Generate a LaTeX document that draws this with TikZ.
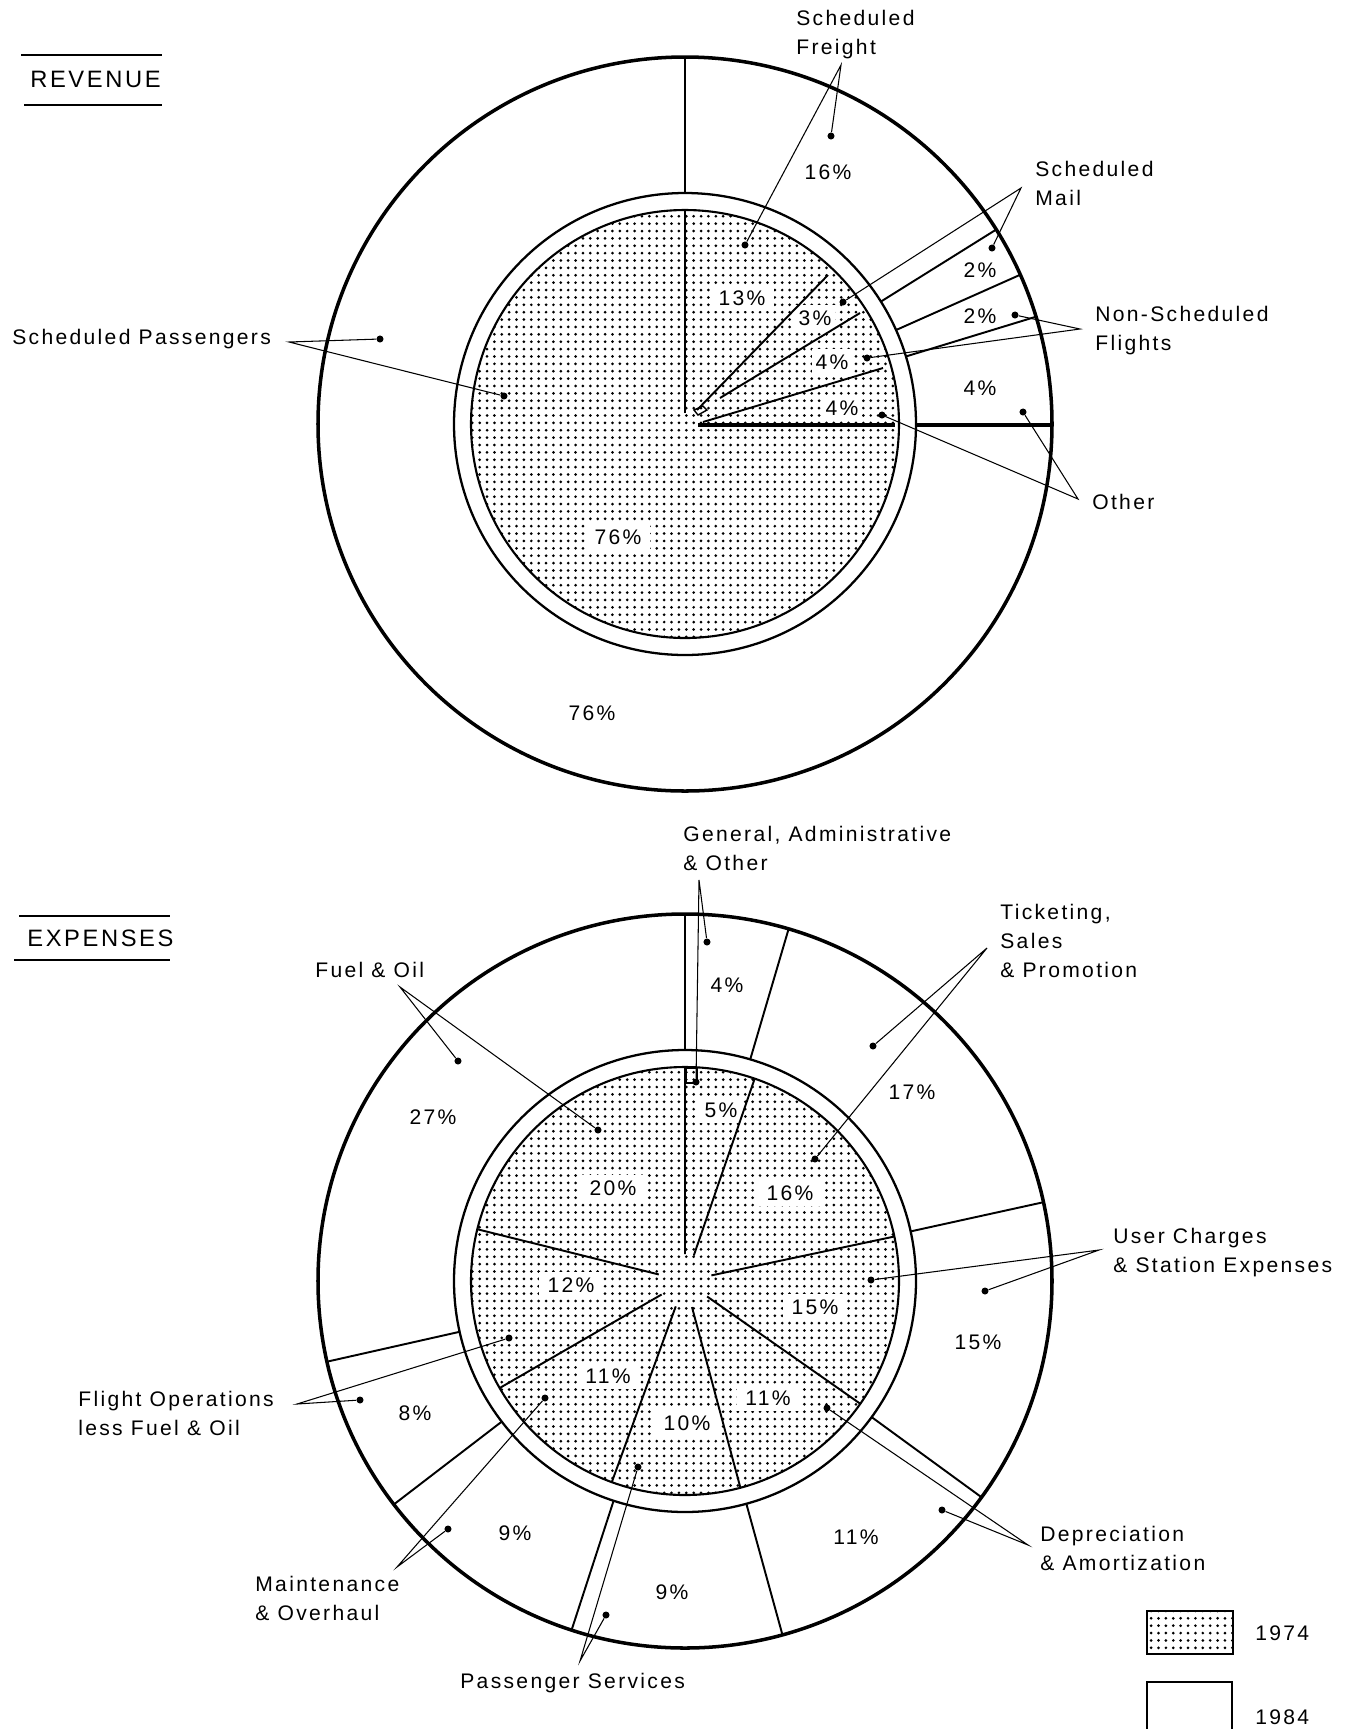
\documentclass[tikz,border=0pt]{standalone}
\usepackage{fontspec}
\setmainfont{Liberation Sans}[LetterSpace=11]
\usetikzlibrary{patterns}
\pgfdeclarepatternformonly{piedots}{\pgfqpoint{-1pt}{-1pt}}{\pgfqpoint{1pt}{1pt}}{\pgfqpoint{4.2pt}{4.2pt}}{\pgfpathcircle{\pgfqpoint{0pt}{0pt}}{0.85pt}\pgfusepath{fill}}

\begin{document}
\begin{tikzpicture}[x=0.02cm, y=-0.02cm,
  lbl/.style={font=\fontsize{12}{16.5}\selectfont, align=left, anchor=north west, inner sep=0pt},
  ttl/.style={font=\fontsize{13.5}{16}\selectfont, anchor=north west, inner sep=0pt},
  pct/.style={font=\fontsize{12}{14}\selectfont, inner sep=1pt},
  ipct/.style={pct, fill=white, inner xsep=5pt, inner ysep=3pt},
  pin/.style={circle, fill=black, inner sep=0pt, minimum size=4pt},
  lead/.style={line width=0.6pt},
  dotfill/.style={pattern=piedots}]
\path[use as bounding box, clip] (0,0) rectangle (1355,1729);

\node[ttl] (revttl) at (30,71) {REVENUE};
\draw[line width=1pt] (21,55) -- (162,55) (24,105) -- (162,105);

\begin{scope}[shift={(685,424)}]
\draw[dotfill, line width=1.2pt] (0,0) circle (214);
\draw[line width=1.3pt] (0,0) circle (231);
\draw[line width=2pt] (0,0) circle (367);
\end{scope}
\node[ipct] (r13) at (742,298) {13\%};
\node[ipct, inner xsep=2pt] (r3) at (815,318) {3\%};
\node[ipct, inner xsep=2pt] (r4a) at (832,362) {4\%};
\node[ipct, inner xsep=2pt] (r4b) at (842,408) {4\%};
\node[ipct] (r76) at (618,537) {76\%};
\begin{scope}[shift={(685,424)}]
\draw[line width=1pt] (-90:11) -- (-90:214) (-90:231) -- (-90:367);
\draw[line width=1.1pt] (12,-14) -- (143,-149) (35,-26) -- (175,-111) (18,-2) -- (198,-56);
\draw[line width=0.8pt] (9,-14) -- (13,-9) -- (22,-14) -- (18,-18) -- cycle;
\draw[line width=1.8pt] (13,1) -- (210,1) (231,1) -- (367,1);
\draw[line width=1.1pt] (-32:231) -- (-32:367) (-24:231) -- (-24:367) (-17:231) -- (-17:367);
\end{scope}
\node[pct] (o16) at (828,172) {16\%};
\node[pct] (o2a) at (980,270) {2\%};
\node[pct] (o2b) at (980,316) {2\%};
\node[pct] (o4) at (980,388) {4\%};
\node[pct] (o76) at (592,713) {76\%};

\node[lbl] (frlbl) at (796,10) {Scheduled\\Freight};
\coordinate (frtip) at (841,65);
\node[pin] (frout) at (831,136) {};
\node[pin] (frin) at (745,245) {};
\draw[lead] (frout) -- (frtip) -- (frin);

\node[lbl] (mllbl) at (1035,161) {Scheduled\\Mail};
\coordinate (mltip) at (1021,188);
\node[pin] (mlout) at (992,248) {};
\node[pin] (mlin) at (843,302) {};
\draw[lead] (mlout) -- (mltip) -- (mlin);

\node[lbl] (nslbl) at (1095,306) {Non-Scheduled\\Flights};
\coordinate (nstip) at (1080,329);
\node[pin] (nsout) at (1015,315) {};
\node[pin] (nsin) at (867,358) {};
\draw[lead] (nsout) -- (nstip) -- (nsin);

\node[lbl] (otlbl) at (1092,494) {Other};
\coordinate (ottip) at (1078,499);
\node[pin] (otout) at (1023,412) {};
\node[pin] (otin) at (882,415) {};
\draw[lead] (otout) -- (ottip) -- (otin);

\node[lbl] (splbl) at (12,329) {Scheduled Passengers};
\coordinate (sptip) at (289,342);
\node[pin] (spout) at (380,339) {};
\node[pin] (spin) at (504,396) {};
\draw[lead] (spout) -- (sptip) -- (spin);

\node[ttl] (expttl) at (27,930) {EXPENSES};
\draw[line width=1pt] (19,916) -- (170,916) (14,960) -- (170,960);

\begin{scope}[shift={(685,1281)}]
\draw[dotfill, line width=1.2pt] (0,0) circle (214);
\draw[line width=1.3pt] (0,0) circle (231);
\draw[line width=2pt] (0,0) circle (367);
\end{scope}
\node[ipct, inner xsep=3pt] (e5) at (721,1110) {5\%};
\node[ipct] (e16) at (790,1193) {16\%};
\node[ipct] (e20) at (613,1188) {20\%};
\node[ipct] (e12) at (571,1285) {12\%};
\node[ipct] (e15) at (815,1307) {15\%};
\node[ipct] (e11a) at (608,1376) {11\%};
\node[ipct] (e10) at (687,1423) {10\%};
\node[ipct] (e11b) at (768,1398) {11\%};
\begin{scope}[shift={(685,1281)}]
\draw[line width=1.1pt] (-90:27) -- (-90:214) (-71:27) -- (-71:214) (-12:27) -- (-12:214) (35:27) -- (35:214) (75:27) -- (75:214) (110:27) -- (110:214) (150:27) -- (150:214) (-166:27) -- (-166:214);
\draw[line width=1.1pt] (-90:231) -- (-90:367) (-73.6:231) -- (-73.6:367) (-12.4:231) -- (-12.4:367) (36.1:231) -- (36.1:367) (74.6:231) -- (74.6:367) (108:231) -- (108:367) (142.5:231) -- (142.5:367) (167.3:231) -- (167.3:367);
\draw[line width=0.8pt] (1,-213) rectangle (12,-198);
\end{scope}
\node[pct] (f4) at (727,985) {4\%};
\node[pct] (f17) at (912,1092) {17\%};
\node[pct] (f15) at (978,1342) {15\%};
\node[pct] (f11) at (856,1537) {11\%};
\node[pct] (f9a) at (672,1592) {9\%};
\node[pct] (f9b) at (515,1533) {9\%};
\node[pct] (f8) at (415,1413) {8\%};
\node[pct] (f27) at (433,1117) {27\%};

\node[lbl] (galbl) at (683,826) {General, Administrative\\\& Other};
\coordinate (gatip) at (699,880);
\node[pin] (gaout) at (707,942) {};
\node[pin] (gain) at (696,1082) {};
\draw[lead] (gaout) -- (gatip) -- (gain);

\node[lbl] (tklbl) at (1000,904) {Ticketing,\\Sales\\\& Promotion};
\coordinate (tktip) at (987,948);
\node[pin] (tkout) at (873,1046) {};
\node[pin] (tkin) at (815,1159) {};
\draw[lead] (tkout) -- (tktip) -- (tkin);

\node[lbl] (uclbl) at (1113,1228) {User Charges\\\& Station Expenses};
\coordinate (uctip) at (1099,1250);
\node[pin] (ucout) at (985,1291) {};
\node[pin] (ucin) at (871,1280) {};
\draw[lead] (ucout) -- (uctip) -- (ucin);

\node[lbl] (dalbl) at (1040,1526) {Depreciation\\\& Amortization};
\coordinate (datip) at (1028,1545);
\node[pin] (daout) at (942,1510) {};
\node[pin] (dain) at (827,1408) {};
\draw[lead] (daout) -- (datip) -- (dain);

\node[lbl] (pslbl) at (460,1673) {Passenger Services};
\coordinate (pstip) at (580,1661);
\node[pin] (psout) at (606,1615) {};
\node[pin] (psin) at (638,1467) {};
\draw[lead] (psout) -- (pstip) -- (psin);

\node[lbl] (molbl) at (255,1576) {Maintenance\\\& Overhaul};
\coordinate (motip) at (397,1567);
\node[pin] (moout) at (448,1529) {};
\node[pin] (moin) at (545,1398) {};
\draw[lead] (moout) -- (motip) -- (moin);

\node[lbl] (folbl) at (78,1391) {Flight Operations\\less Fuel \& Oil};
\coordinate (fotip) at (297,1404);
\node[pin] (foout) at (360,1400) {};
\node[pin] (foin) at (509,1338) {};
\draw[lead] (foout) -- (fotip) -- (foin);

\node[lbl] (fulbl) at (315,962) {Fuel \& Oil};
\coordinate (futip) at (400,987);
\node[pin] (fuout) at (458,1061) {};
\node[pin] (fuin) at (598,1130) {};
\draw[lead] (fuout) -- (futip) -- (fuin);

\draw[dotfill, line width=1pt] (1147,1611) rectangle (1233,1654);
\node[lbl] (y74) at (1255,1625) {1974};
\draw[line width=1pt] (1147,1760) -- (1147,1682) -- (1232,1682) -- (1232,1760);
\node[lbl] (y84) at (1255,1709) {1984};
\end{tikzpicture}
\end{document}
